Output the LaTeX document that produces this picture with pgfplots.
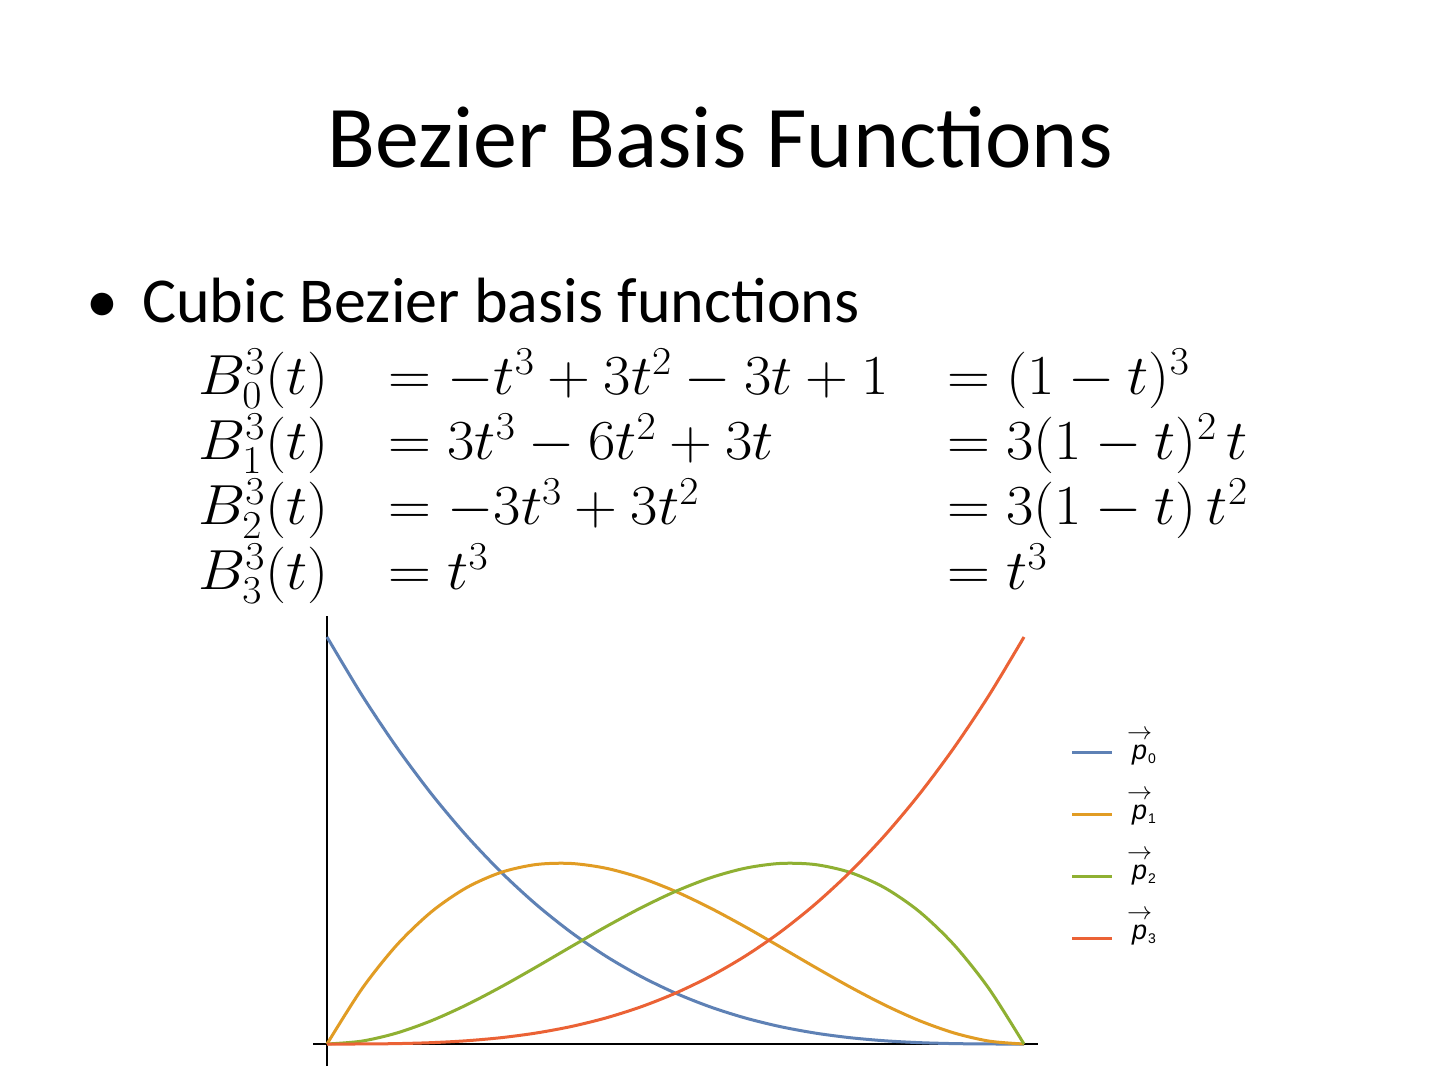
\RequirePackage{fix-cm}
\documentclass[border=0pt]{standalone}
\usepackage{amsmath}
\usepackage[no-math]{fontspec}
\setmainfont{Carlito}
\setsansfont{Liberation Sans}
\usepackage{pgfplots}
\pgfplotsset{compat=1.18}
\usepackage{pgfplotstable}
\DeclareMathSizes{59.5}{59.5}{41.65}{29.75}
\DeclareMathSizes{25}{25}{17.5}{12.5}

\definecolor{c0}{HTML}{5E81B5}
\definecolor{c1}{HTML}{E19C24}
\definecolor{c2}{HTML}{8FB032}
\definecolor{c3}{HTML}{EB6235}

\pgfplotstableread{
t     b0        b1        b2        b3
0.00  1.000000  0.000000  0.000000  0.000000
0.05  0.857375  0.135375  0.007125  0.000125
0.10  0.729000  0.243000  0.027000  0.001000
0.15  0.614125  0.325125  0.057375  0.003375
0.20  0.512000  0.384000  0.096000  0.008000
0.25  0.421875  0.421875  0.140625  0.015625
0.30  0.343000  0.441000  0.189000  0.027000
0.35  0.274625  0.443625  0.238875  0.042875
0.40  0.216000  0.432000  0.288000  0.064000
0.45  0.166375  0.408375  0.334125  0.091125
0.50  0.125000  0.375000  0.375000  0.125000
0.55  0.091125  0.334125  0.408375  0.166375
0.60  0.064000  0.288000  0.432000  0.216000
0.65  0.042875  0.238875  0.443625  0.274625
0.70  0.027000  0.189000  0.441000  0.343000
0.75  0.015625  0.140625  0.421875  0.421875
0.80  0.008000  0.096000  0.384000  0.512000
0.85  0.003375  0.057375  0.325125  0.614125
0.90  0.001000  0.027000  0.243000  0.729000
0.95  0.000125  0.007125  0.135375  0.857375
1.00  0.000000  0.000000  0.000000  1.000000
}\bez

\newcommand{\pv}[1]{{\rlap{\raisebox{20pt}{\fontsize{25}{25}\selectfont$\rightarrow$}}\hspace{5pt}\fontsize{27}{27}\selectfont\sffamily\itshape p\/\hspace{1pt}\upshape\raisebox{-4pt}{\fontsize{14}{14}\selectfont #1}}}

\begin{document}
\begin{tikzpicture}[x=1pt,y=1pt]
\useasboundingbox[fill=white] (0,0) rectangle (1440,1080);

% title
\node[anchor=base, inner sep=0] at (720,912) {\fontsize{88}{88}\selectfont Bezier Basis Functions};

% bullet
\node[anchor=base west, inner sep=0] at (86,757) {\fontsize{64}{64}\selectfont •};
\node[anchor=base west, inner sep=0] at (142,757) {\fontsize{64}{64}\selectfont Cubic Bezier basis functions};

% equations
\begin{scope}[every node/.style={anchor=base west, inner sep=0, yscale=0.95, transform shape, font=\fontsize{59.5}{59.5}\selectfont}]
\node at (198,685) {$B_0^3(t)$};
\node at (388,685) {$= -t^3 + 3t^2 - 3t + 1$};
\node at (947,685) {$= (1-t)^3$};
\node at (198,620) {$B_1^3(t)$};
\node at (388,620) {$= 3t^3 - 6t^2 + 3t$};
\node at (947,620) {$= 3(1-t)^2\,t$};
\node at (198,555) {$B_2^3(t)$};
\node at (388,555) {$= -3t^3 + 3t^2$};
\node at (947,555) {$= 3(1-t)\,t^2$};
\node at (198,490) {$B_3^3(t)$};
\node at (388,490) {$= t^3$};
\node at (947,490) {$= t^3$};
\end{scope}

\begin{axis}[
  at={(313pt,14pt)}, anchor=south west,
  scale only axis, width=725pt, height=450pt,
  xmin=-0.0201, xmax=1.0201, ymin=-0.054, ymax=1.0516,
  axis lines=middle,
  axis line style={-, line width=1.1pt, black},
  xtick=\empty, ytick=\empty,
  clip=false,
  legend cell align=left,
  legend image code/.code={\draw[#1] (0pt,7pt) -- (40pt,7pt);},
  legend style={draw=none, fill=none, at={(axis description cs:1.045,0.719)}, anchor=north west,
    inner sep=0pt, row sep=27pt, column sep=10pt},
]
\addplot[c0, line width=3pt, smooth] table[x=t,y=b0]{\bez};
\addlegendentry{\phantom{\pv{0}}}
\addplot[c1, line width=3pt, smooth] table[x=t,y=b1]{\bez};
\addlegendentry{\phantom{\pv{1}}}
\addplot[c2, line width=3pt, smooth] table[x=t,y=b2]{\bez};
\addlegendentry{\phantom{\pv{2}}}
\addplot[c3, line width=3pt, smooth] table[x=t,y=b3]{\bez};
\addlegendentry{\phantom{\pv{3}}}
\end{axis}

% legend labels
\begin{scope}[every node/.style={anchor=base west, inner sep=0}]
\node at (1127,321) {\pv{0}};
\node at (1127,261) {\pv{1}};
\node at (1127,201) {\pv{2}};
\node at (1127,141) {\pv{3}};
\end{scope}
\end{tikzpicture}
\end{document}
